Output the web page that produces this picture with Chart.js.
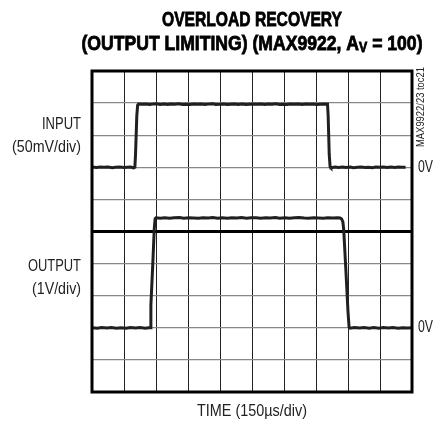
<!DOCTYPE html>
<html>
<head>
<meta charset="utf-8">
<script src="https://cdn.jsdelivr.net/npm/chart.js@4.4.0/dist/chart.umd.min.js"></script>
<style>
  html, body { margin: 0; padding: 0; background: #fff; }
  #wrap { width: 435px; height: 421px; }
</style>
</head>
<body>
<div id="wrap"><canvas id="scope" width="435" height="421"></canvas></div>
<script>
// scope screen: 10 x 10 divisions
// time base 150us/div
const timeMin = 0;
const timeMax = 1500;
const timeStep = 150;

// input channel, 50mV/div, 0V three divisions below the top
const inputMin = -350;
const inputMax = 150;
const inputStep = 50;
const centerLine = -100;

// output channel, 1V/div, 0V two divisions above the bottom
const outputMin = -2;
const outputMax = 8;

// input trace (us, mV)
const inputTime = [0, 20, 40, 55, 75, 95, 110, 130, 150, 165, 180, 195, 201, 204, 210, 214, 218,
  235, 250, 270, 285, 300, 320, 335, 355, 370, 390, 405, 425, 440, 460, 475, 495, 510,
  530, 545, 565, 580, 600, 615, 635, 650, 670, 685, 705, 720, 740, 755, 775, 790, 810,
  825, 845, 860, 880, 895, 915, 930, 950, 965, 985, 1000, 1020, 1035, 1055, 1070, 1090,
  1104, 1107, 1112, 1116, 1120, 1140, 1155, 1175, 1190, 1210, 1225, 1245, 1260, 1280,
  1295, 1315, 1330, 1350, 1365, 1385, 1400, 1420, 1435, 1455, 1470, 1490, 1500];
const inputMv = [0.3, -0.4, 0.5, -0.1, 0.4, -0.6, 0.2, 0.6, -0.3, 0.1, 0.5, -0.8, 0, 20, 80, 97, 98.5,
  98.1, 98.7, 97.9, 98.4, 98.8, 98, 98.5, 97.8, 98.6, 98.2, 98.9, 98, 98.3, 97.9, 98.7, 98.1, 98.5,
  97.8, 98.4, 98.8, 98, 98.3, 98.7, 97.9, 98.2, 98.6, 98, 98.5, 97.8, 98.3, 98.7, 98.1, 98.4, 97.9,
  98.6, 98.2, 98.8, 98, 98.3, 97.8, 98.5, 98.1, 98.7, 97.9, 98.4, 98.2, 98.6, 97.8, 98.3, 98.5,
  98.2, 80, 20, 1, -0.6, 0.3,
  -0.4, 0.5, -0.2, 0.4, -0.5, 0.1, 0.6, -0.3, 0.2, -0.6, 0.4, -0.1, 0.5, -0.4, 0.3, -0.2, 0.6, 0, 0.2];

// output trace (us, V)
const outputTime = [0, 25, 45, 70, 90, 115, 135, 160, 180, 205, 225, 250, 266, 272, 276, 285, 292, 296,
  300, 320, 340, 365, 385, 410, 430, 455, 475, 500, 520, 545, 565, 590, 610, 635, 655, 680,
  700, 725, 745, 770, 790, 815, 835, 860, 880, 905, 925, 950, 970, 995, 1015, 1040, 1060,
  1085, 1105, 1130, 1150, 1163, 1170, 1176, 1180, 1190, 1200, 1205, 1210, 1230, 1255, 1275,
  1300, 1320, 1345, 1365, 1390, 1410, 1435, 1455, 1480, 1500];
const outputV = [0.005, -0.01, 0.01, -0.005, 0.012, -0.01, 0.004, -0.012, 0.008, -0.006, 0.01, -0.01, 0, 0, 0.7, 2, 3.1, 3.4,
  3.425, 3.415, 3.43, 3.41, 3.425, 3.435, 3.415, 3.43, 3.42, 3.41, 3.43, 3.42, 3.435, 3.415, 3.425, 3.41, 3.43, 3.42,
  3.435, 3.415, 3.425, 3.43, 3.41, 3.425, 3.42, 3.435, 3.415, 3.43, 3.41, 3.425, 3.435, 3.42, 3.415, 3.43, 3.42,
  3.41, 3.43, 3.42, 3.425, 3.42, 3.39, 3.3, 3.05, 1.8, 0.5, 0.02, -0.01, 0.01, -0.008, 0.01,
  -0.012, 0.006, -0.01, 0.012, -0.005, 0.01, -0.01, 0.005, -0.008, 0];

const traceColor = '#231f20';
const fontFamily = "'Liberation Sans', Arial, sans-serif";

function toPoints(xs, ys) {
  return xs.map((x, i) => ({ x: x, y: ys[i] }));
}

// draw text squeezed to a given width (the original uses a condensed face)
function squeezed(ctx, text, x, y, width, align, heavy) {
  const w = ctx.measureText(text).width;
  const s = Math.min(1, width / w);
  ctx.save();
  ctx.translate(x, y);
  ctx.scale(s, 1);
  ctx.textAlign = align;
  ctx.fillText(text, 0, 0);
  if (heavy) {
    ctx.lineWidth = heavy;
    ctx.strokeStyle = ctx.fillStyle;
    ctx.strokeText(text, 0, 0);
  }
  ctx.restore();
}

// labels and frame around the screen
const scopeText = {
  id: 'scopeText',
  afterDatasetsDraw(chart) {
    const ctx = chart.ctx;
    const area = chart.chartArea;
    const yIn = chart.scales.y;
    const yOut = chart.scales.y2;
    const midX = (area.left + area.right) / 2;

    ctx.save();
    ctx.strokeStyle = '#000';
    ctx.lineWidth = 3;
    ctx.strokeRect(area.left, area.top, area.right - area.left, area.bottom - area.top);

    ctx.fillStyle = '#000';
    ctx.textBaseline = 'middle';
    ctx.font = 'bold 20px ' + fontFamily;
    squeezed(ctx, 'OVERLOAD RECOVERY', midX, 20, 180, 'center', 0.8);

    // second title line with subscript V
    const big = 'bold 20px ' + fontFamily;
    const small = 'bold 14px ' + fontFamily;
    const partA = '(OUTPUT LIMITING) (MAX9922, A';
    const partB = 'V';
    const partC = ' = 100)';
    ctx.font = big;
    const wA = ctx.measureText(partA).width;
    const wC = ctx.measureText(partC).width;
    ctx.font = small;
    const wB = ctx.measureText(partB).width;
    const total = wA + wB + wC;
    const s = 341 / total;
    ctx.save();
    ctx.translate(midX - 341 / 2, 0);
    ctx.scale(s, 1);
    ctx.textAlign = 'left';
    ctx.strokeStyle = '#000';
    ctx.lineWidth = 0.8;
    ctx.font = big;
    ctx.fillText(partA, 0, 44);
    ctx.strokeText(partA, 0, 44);
    ctx.font = small;
    ctx.fillText(partB, wA, 48);
    ctx.strokeText(partB, wA, 48);
    ctx.font = big;
    ctx.fillText(partC, wA + wB, 44);
    ctx.strokeText(partC, wA + wB, 44);
    ctx.restore();

    ctx.fillStyle = '#222';
    ctx.font = '17px ' + fontFamily;
    squeezed(ctx, 'INPUT', 81, 124, 39, 'right');
    squeezed(ctx, '(50mV/div)', 81, 147, 69, 'right');
    squeezed(ctx, 'OUTPUT', 81, 266, 53, 'right');
    squeezed(ctx, '(1V/div)', 81, 289, 49, 'right');

    squeezed(ctx, '0V', area.right + 6, yIn.getPixelForValue(0), 15, 'left');
    squeezed(ctx, '0V', area.right + 6, yOut.getPixelForValue(0), 15, 'left');

    ctx.font = '16px ' + fontFamily;
    squeezed(ctx, 'TIME (150\u00b5s/div)', midX, 412, 110, 'center');

    ctx.save();
    ctx.translate(area.right + 9, 107);
    ctx.rotate(-Math.PI / 2);
    ctx.font = '11px ' + fontFamily;
    squeezed(ctx, 'MAX9922/23 toc21', 0, 0, 80, 'center');
    ctx.restore();

    ctx.restore();
  }
};

new Chart(document.getElementById('scope'), {
  type: 'line',
  data: {
    datasets: [{
      label: 'Input',
      data: toPoints(inputTime, inputMv),
      yAxisID: 'y',
      borderColor: traceColor,
      borderWidth: 3,
      pointRadius: 0,
      tension: 0
    }, {
      label: 'Output',
      data: toPoints(outputTime, outputV),
      yAxisID: 'y2',
      borderColor: traceColor,
      borderWidth: 3,
      pointRadius: 0,
      tension: 0
    }]
  },
  options: {
    responsive: false,
    animation: false,
    layout: { padding: { left: 92, top: 71, right: 23, bottom: 29 } },
    plugins: {
      legend: { display: false },
      tooltip: { enabled: false }
    },
    scales: {
      x: {
        type: 'linear',
        min: timeMin,
        max: timeMax,
        ticks: { display: false, stepSize: timeStep },
        grid: { color: '#222', lineWidth: 1, drawTicks: false },
        border: { display: false }
      },
      y: {
        min: inputMin,
        max: inputMax,
        ticks: { display: false, stepSize: inputStep },
        grid: {
          drawTicks: false,
          color: ctx => ctx.tick && ctx.tick.value === centerLine ? '#000' : '#888',
          lineWidth: ctx => ctx.tick && ctx.tick.value === centerLine ? 3 : 1.3
        },
        border: { display: false }
      },
      y2: {
        display: false,
        min: outputMin,
        max: outputMax
      }
    }
  },
  plugins: [scopeText]
});
</script>
</body>
</html>
